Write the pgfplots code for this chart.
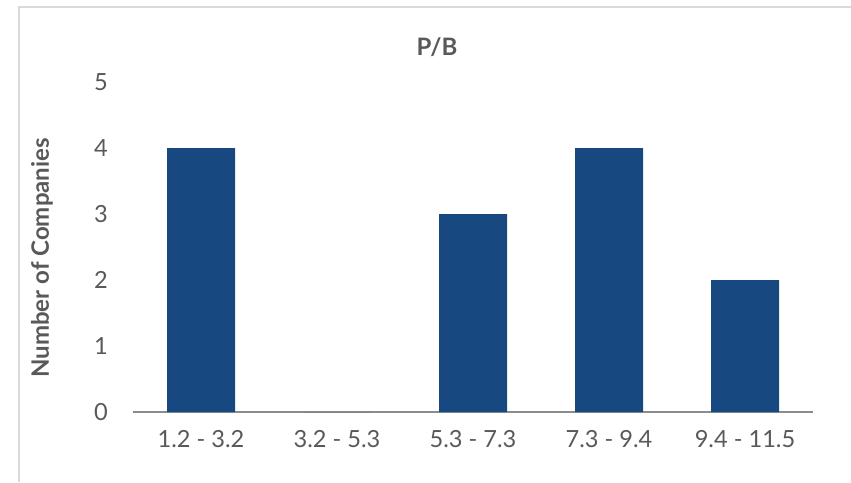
\documentclass[border=0pt]{standalone}
\usepackage{pgfplots}
\pgfplotsset{compat=1.18}
\usepackage{fontspec}
\setmainfont{Lato}
\definecolor{barblue}{RGB}{23,72,127}
\definecolor{txtgray}{RGB}{89,89,89}
\definecolor{axgray}{RGB}{140,140,140}
\definecolor{framegray}{RGB}{217,217,217}
\begin{document}
\begin{tikzpicture}
\useasboundingbox (0,0) rectangle (425.5pt,241pt);
\draw[framegray, line width=1pt] (9.5pt,0) -- (9.5pt,237.5pt) -- (425.5pt,237.5pt);
\begin{axis}[
  at={(66.5pt,35pt)}, anchor=south west,
  scale only axis, width=340pt, height=165pt,
  ybar, bar width=34pt,
  xmin=-0.5, xmax=4.5, ymin=0, ymax=5,
  xtick=data,
  xticklabels={1.2 - 3.2, 3.2 - 5.3, 5.3 - 7.3, 7.3 - 9.4, 9.4 - 11.5},
  ytick={0,1,2,3,4,5},
  axis x line*=bottom, axis y line*=left,
  x axis line style={draw=axgray, line width=0.75pt, -},
  y axis line style={draw=none},
  major tick length=0pt,
  tick style={draw=none},
  /pgf/number format/assume math mode=true,
  ticklabel style={font=\fontsize{11.8}{13}\selectfont, text=txtgray},
  yticklabel style={xshift=-9pt},
  xticklabel style={yshift=-5.5pt},
  every axis y label/.style={at={(axis description cs:-0.1338,0.467)}, rotate=90, anchor=center},
  ylabel={Number of Companies},
  ylabel style={font=\bfseries\fontsize{12}{13}\selectfont, text=txtgray},
  title={P/B},
  every axis title/.style={at={(axis description cs:0.447,1.106)}, anchor=center},
  title style={font=\bfseries\fontsize{12}{13}\selectfont, text=txtgray},
  clip=false,
]
\addplot[fill=barblue, draw=none] coordinates {(0,4) (1,0) (2,3) (3,4) (4,2)};
\end{axis}
\end{tikzpicture}
\end{document}
